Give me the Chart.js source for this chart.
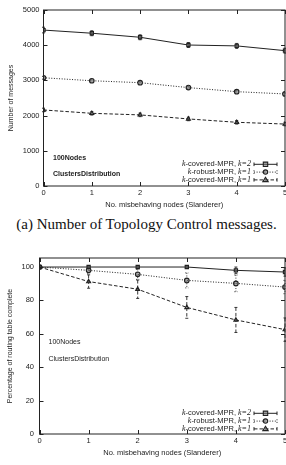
<!DOCTYPE html>
<html>
<head>
<meta charset="utf-8">
<script src="https://cdn.jsdelivr.net/npm/chart.js@4"></script>
<style>
html,body{margin:0;padding:0;background:#fff;overflow:hidden;width:286px;height:465px;}
canvas{position:absolute;left:0;}
#c1{top:0;}
#c2{top:240px;}
#cap{position:absolute;left:0;width:293px;top:216px;text-align:center;font:15px "Liberation Serif",serif;color:#111;white-space:nowrap;}
</style>
</head>
<body>
<canvas id="c1" width="300" height="215"></canvas>
<div id="cap">(a) Number of Topology Control messages.</div>
<canvas id="c2" width="300" height="225"></canvas>
<script>
// x axis: number of misbehaving nodes
const misbehaving = [0,1,2,3,4,5];
const xTicks = [0,1,2,3,4,5];

// (a) number of TC messages
const msgK2 = [4430,4340,4225,4005,3980,3845];
const msgK2Err = [80,70,70,70,70,70];
const msgRobust = [3075,2990,2935,2795,2680,2615];
const msgRobustErr = [40,40,40,40,40,40];
const msgK1 = [2160,2065,2020,1905,1810,1760];
const msgK1Err = [50,50,50,50,50,50];
const msgTicks = [0,1000,2000,3000,4000,5000];

// (b) percentage of routing table complete
const pctK2 = [100,100,100,100,98,97];
const pctK2Err = [0,0.5,0.5,0.5,2,2.5];
const pctRobust = [100,98,95.6,92,90.2,88];
const pctRobustErr = [0,2,3,4.5,5,4];
const pctK1 = [100,91.3,86.7,75.8,68.3,62.5];
const pctK1Err = [0,4,5.5,6.5,7.5,7];
const pctTicks = [0,20,40,60,80,100];

const seriesNames = ["k-covered-MPR, k=2","k-robust-MPR, k=1","k-covered-MPR, k=1"];
const notes = ["100Nodes","ClustersDistribution"];

const INK = "#222";
const SANS = "'Liberation Sans', Arial, sans-serif";
const MARK_FILL = 'rgba(110,110,110,0.55)';
const styles = [
  {pointStyle:'rect', dash:[]},
  {pointStyle:'circle', dash:[1,1.6]},
  {pointStyle:'triangle', dash:[3.5,2]}
];

function makeSets(vals, errs){
  return vals.map((v,i)=>({
    label: seriesNames[i],
    data: misbehaving.map((x,j)=>({x:x, y:v[j]})),
    errors: errs[i],
    borderColor: INK,
    borderWidth: 1,
    borderDash: styles[i].dash,
    pointStyle: styles[i].pointStyle,
    pointRadius: 2.3,
    pointBorderWidth: 1.1,
    pointBorderColor: INK,
    pointBackgroundColor: MARK_FILL,
    tension: 0
  }));
}

// gnuplot-like frame, inner ticks, error bars, key and labels
const gnuplotLook = {
  id: 'gnuplotLook',
  beforeDatasetsDraw(chart){
    const ctx = chart.ctx, xs = chart.scales.x, ys = chart.scales.y;
    ctx.save();
    ctx.strokeStyle = INK; ctx.lineWidth = 0.9;
    chart.data.datasets.forEach(ds=>{
      ctx.setLineDash(ds.borderDash);
      ds.data.forEach((p,j)=>{
        const e = ds.errors[j]; if(!e) return;
        const px = xs.getPixelForValue(p.x);
        const y1 = ys.getPixelForValue(p.y+e), y2 = ys.getPixelForValue(p.y-e);
        ctx.beginPath();
        ctx.moveTo(px,y1); ctx.lineTo(px,y2);
        ctx.moveTo(px-1.5,y1); ctx.lineTo(px+1.5,y1);
        ctx.moveTo(px-1.5,y2); ctx.lineTo(px+1.5,y2);
        ctx.stroke();
      });
    });
    ctx.restore();
  },
  afterDraw(chart, args, opts){
    const ctx = chart.ctx, a = chart.chartArea, xs = chart.scales.x, ys = chart.scales.y;
    ctx.save();
    ctx.strokeStyle = INK; ctx.lineWidth = 1;
    ctx.strokeRect(a.left, a.top, a.right-a.left, a.bottom-a.top);
    ctx.beginPath();
    xTicks.forEach(v=>{
      const px = Math.round(xs.getPixelForValue(v))+0.5;
      ctx.moveTo(px,a.bottom); ctx.lineTo(px,a.bottom-4);
      ctx.moveTo(px,a.top); ctx.lineTo(px,a.top+4);
    });
    opts.yTicks.forEach(v=>{
      const py = Math.round(ys.getPixelForValue(v))+0.5;
      ctx.moveTo(a.left,py); ctx.lineTo(a.left+4,py);
      ctx.moveTo(a.right,py); ctx.lineTo(a.right-4,py);
    });
    ctx.stroke();

    // labels
    ctx.fillStyle = INK;
    ctx.textBaseline = 'middle'; ctx.textAlign = 'left';
    ctx.font = (opts.bold ? 'bold ' : '') + '7px ' + SANS;
    notes.forEach((t,i)=> ctx.fillText(t, a.left + opts.noteDx, a.bottom - opts.noteDy[i]));

    // key
    chart.data.datasets.forEach((ds,i)=>{
      const y = a.bottom - opts.keyDy + i*7.8;
      const xr = a.right - 34;
      const parts = ds.label.split(', ');
      const all = [
        {t:parts[0][0], f:'italic 8px "Liberation Serif", serif'},
        {t:parts[0].slice(1), f:'7.5px '+SANS},
        {t:', ', f:'7.5px '+SANS},
        {t:parts[1], f:'italic 8px "Liberation Serif", serif'}
      ];
      let w = 0;
      all.forEach(s=>{ ctx.font = s.f; w += ctx.measureText(s.t).width; });
      let x = xr - w;
      all.forEach(s=>{ ctx.font = s.f; ctx.fillText(s.t, x, y); x += ctx.measureText(s.t).width; });

      // sample
      const x0 = a.right - 31, x1 = a.right - 8, xm = (x0+x1)/2;
      ctx.setLineDash(ds.borderDash);
      ctx.lineWidth = 1;
      ctx.beginPath();
      ctx.moveTo(x0,y); ctx.lineTo(x1,y);
      ctx.moveTo(x0,y-1.8); ctx.lineTo(x0,y+1.8);
      ctx.moveTo(x1,y-1.8); ctx.lineTo(x1,y+1.8);
      ctx.stroke();
      ctx.setLineDash([]);
      ctx.lineWidth = 1.1;
      ctx.fillStyle = MARK_FILL;
      ctx.beginPath();
      const r = 2.2;
      if(ds.pointStyle==='rect'){ ctx.rect(xm-r,y-r,2*r,2*r); }
      else if(ds.pointStyle==='circle'){ ctx.arc(xm,y,r,0,Math.PI*2); }
      else { ctx.moveTo(xm,y-r-0.5); ctx.lineTo(xm+r+0.5,y+r-0.5); ctx.lineTo(xm-r-0.5,y+r-0.5); ctx.closePath(); }
      ctx.fill(); ctx.stroke();
      ctx.fillStyle = INK;
    });
    ctx.restore();
  }
};

function makeChart(id, sets, cfg){
  return new Chart(document.getElementById(id), {
    type: 'line',
    data: {datasets: sets},
    options: {
      responsive: false,
      animation: false,
      devicePixelRatio: 1,
      layout: {padding: {top: cfg.top, right: 15, left: 0, bottom: 0}},
      plugins: {
        legend: {display: false},
        tooltip: {enabled: false},
        gnuplotLook: cfg.look
      },
      scales: {
        x: {
          type: 'linear', min: 0, max: 5,
          afterBuildTicks: s => { s.ticks = xTicks.map(v=>({value:v})); },
          afterFit: s => { s.height = cfg.xHeight; s.paddingLeft = 0; s.paddingRight = 0; },
          grid: {display: false, drawTicks: false},
          border: {display: false},
          ticks: {color: INK, font: {family: SANS, size: 7.5}, padding: 2.5, maxRotation: 0,
                  callback: v => String(v)},
          title: {display: true, text: 'No. misbehaving nodes (Slanderer)', color: INK,
                  font: {family: SANS, size: 7.5}, padding: {top: 0, bottom: cfg.xTitlePad}}
        },
        y: {
          type: 'linear', min: 0, max: cfg.yMax,
          afterBuildTicks: s => { s.ticks = cfg.yTicks.map(v=>({value:v})); },
          afterFit: s => { s.width = cfg.yWidth; },
          grid: {display: false, drawTicks: false},
          border: {display: false},
          ticks: {color: INK, font: {family: SANS, size: 7.5}, padding: cfg.yTickPad,
                  callback: v => String(v)},
          title: {display: true, text: cfg.yTitle, color: INK,
                  font: {family: SANS, size: 7}, padding: {top: cfg.yTitlePad, bottom: 0}}
        }
      }
    },
    plugins: [gnuplotLook]
  });
}

makeChart('c1', makeSets([msgK2,msgRobust,msgK1],[msgK2Err,msgRobustErr,msgK1Err]), {
  top: 10, xHeight: 29, xTitlePad: 5.5, yMax: 5000, yTicks: msgTicks, yWidth: 43.5,
  yTickPad: 4, yTitle: 'Number of messages', yTitlePad: 6.5,
  look: {yTicks: msgTicks, bold: true, noteDx: 9.5, noteDy: [28, 12], keyDy: 21.7}
});

makeChart('c2', makeSets([pctK2,pctRobust,pctK1],[pctK2Err,pctRobustErr,pctK1Err]), {
  top: 18, xHeight: 31, xTitlePad: 7.5, yMax: 105.4, yTicks: pctTicks, yWidth: 39.5,
  yTickPad: 5.5, yTitle: 'Percentage of routing table complete', yTitlePad: 5.8,
  look: {yTicks: pctTicks, bold: false, noteDx: 9, noteDy: [92, 75], keyDy: 20.7}
});
</script>
</body>
</html>
